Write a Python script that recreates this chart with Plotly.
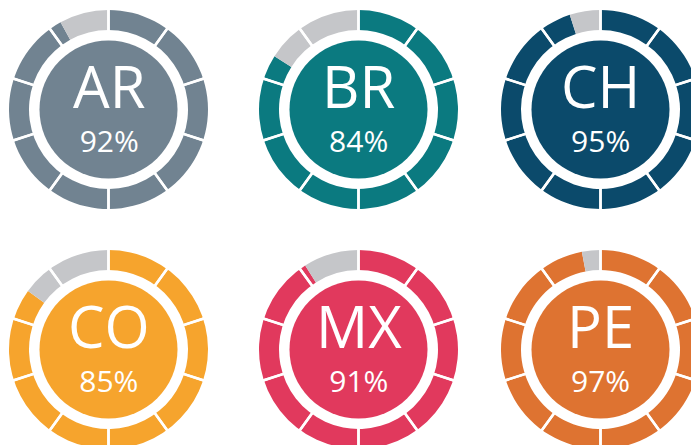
import plotly.graph_objects as go

# ---- data ----
codes = ["AR", "BR", "CH", "CO", "MX", "PE"]
values = [92, 84, 95, 85, 91, 97]
colors = ["#718391", "#0B7A80", "#0B4A6B", "#F6A42D", "#E1395D", "#DE7331"]
rest_color = "#C5C6C9"
n_segments = 10

# ---- layout (pixels) ----
W, H = 720, 470
col_x = [108.5, 358.5, 600.5]
row_y = [109.5, 349.5]
R_OUT = 99.5
R_IN = 79.5
R_CIRCLE = 69

def dom(cx, cy, r):
    return dict(x=[(cx - r) / W, (cx + r) / W],
                y=[1 - (cy + r) / H, 1 - (cy - r) / H])

fig = go.Figure()
for i, (code, v, c) in enumerate(zip(codes, values, colors)):
    cx = col_x[i % 3]
    cy = row_y[i // 3]
    # ring: filled share vs remainder
    fig.add_trace(go.Pie(values=[v, 100 - v], marker=dict(colors=[c, rest_color], line=dict(width=0)),
                         hole=R_IN / R_OUT, sort=False, direction="clockwise", rotation=0,
                         textinfo="none", hoverinfo="skip", showlegend=False,
                         domain=dom(cx, cy, R_OUT)))
    # white separators between the ten segments
    r2 = R_OUT + 4
    fig.add_trace(go.Pie(values=[100 / n_segments] * n_segments,
                         marker=dict(colors=["rgba(0,0,0,0)"] * n_segments, line=dict(width=2.5, color="white")),
                         hole=(R_IN - 4) / r2, sort=False, direction="clockwise", rotation=0,
                         textinfo="none", hoverinfo="skip", showlegend=False,
                         domain=dom(cx, cy, r2)))
    # inner disc
    fig.add_trace(go.Pie(values=[v], marker=dict(colors=[c], line=dict(width=0)),
                         sort=False, textinfo="none", hoverinfo="skip", showlegend=False,
                         domain=dom(cx, cy, R_CIRCLE)))
    fig.add_annotation(x=cx / W, y=1 - (cy - 6) / H, xref="paper", yref="paper",
                       text=f"<span style='font-size:58px'>{code}</span><br><span style='font-size:30px'>{v}%</span>",
                       showarrow=False, xanchor="center", yanchor="middle", align="center",
                       font=dict(family="Open Sans", size=34, color="white"))

fig.update_layout(width=W, height=H, margin=dict(l=0, r=0, t=0, b=0),
                  paper_bgcolor="white", plot_bgcolor="white", showlegend=False)

fig.write_html("out.html", config={"displayModeBar": False},
               post_script="document.body.style.margin='0';document.body.style.overflow='hidden';")
